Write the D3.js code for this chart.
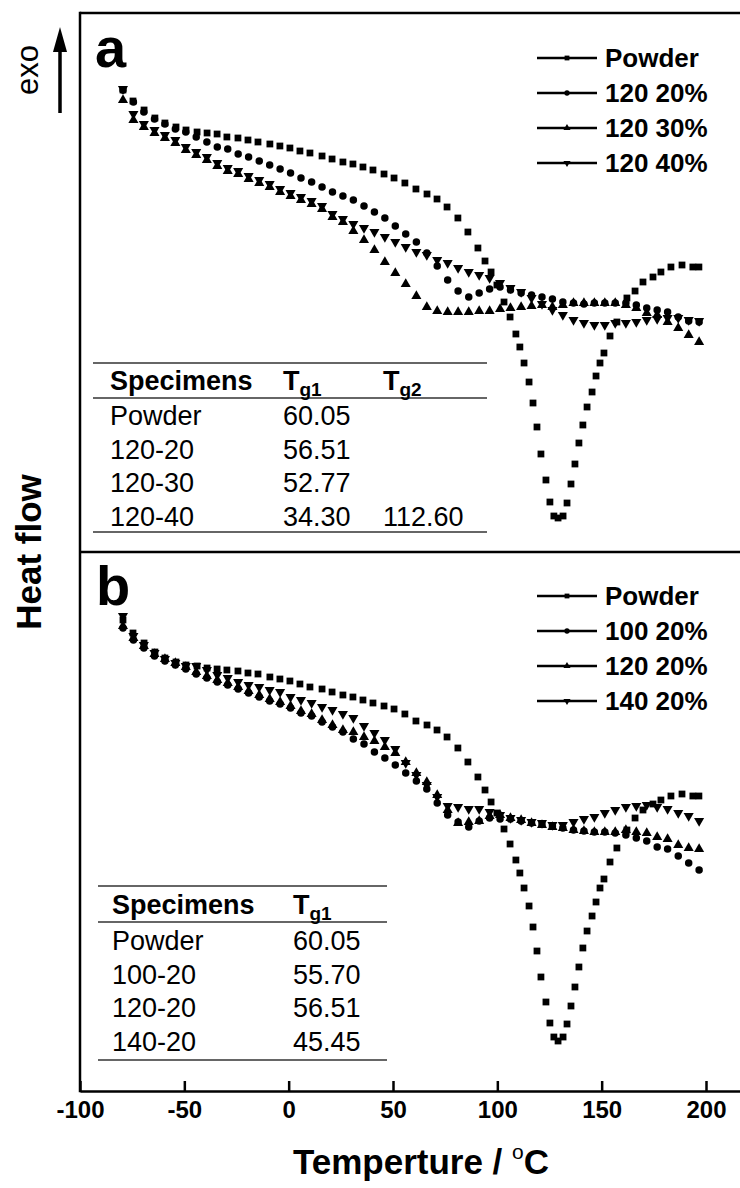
<!DOCTYPE html>
<html><head><meta charset="utf-8">
<script src="https://cdn.jsdelivr.net/npm/d3@7"></script>
<style>body{margin:0;background:#fff}svg{display:block}text{font-family:"Liberation Sans",Arial,sans-serif;fill:#000}</style>
</head><body><svg id="c" width="740" height="1188"></svg>
<script>
// ---------- data ----------
const xTicks = [-100, -50, 0, 50, 100, 150, 200];
const gridT = [-79.4,-74.4,-69.4,-64.3,-59.3,-54.3,-49.3,-44.3,-39.2,-34.2,-29.2,-24.2,-19.2,-14.1,-9.1,-4.1,0.9,5.9,11.0,16.0,21.0,26.0,31.0,36.1,41.1,46.1,51.1,56.1,61.2,66.2,71.2,76.2,81.2,86.3,91.3,96.3,101.3,106.3,111.4,116.4,121.4,126.4,131.4,136.5,141.5,146.5,151.5,156.5,161.6,166.6,171.6,176.6,181.6,186.7,191.7,196.7];
const powderT = [-79.4,-74.6,-69.3,-64.1,-59.3,-54.0,-49.2,-43.9,-39.1,-34.3,-29.6,-24.3,-19.5,-14.7,-9.0,-4.2,0.6,5.4,10.2,16.0,20.8,26.0,30.8,35.6,40.4,45.7,50.5,55.7,61.0,66.3,71.1,75.9,81.1,85.9,90.7,94.1,97.0,99.8,103.2,106.1,108.9,110.8,112.8,115.2,117.1,119.0,120.9,123.3,125.2,127.1,129.1,131.5,133.4,135.3,137.2,139.1,141.0,143.0,145.4,147.3,149.2,151.1,154.0,157.3,162.1,166.0,169.8,174.6,178.4,183.2,188.5,193.7,196.6];
// panel a (heat flow, a.u.)
const aPowder = [46.2,45.1,44.2,43.4,42.9,42.5,42.2,42.0,41.9,41.8,41.5,41.4,41.2,41.0,40.8,40.6,40.4,40.1,39.9,39.6,39.3,39.0,38.8,38.5,38.2,37.8,37.4,36.9,36.3,35.8,35.3,34.5,33.4,32.0,30.4,29.1,28.0,26.7,25.0,23.5,21.8,20.5,18.9,17.0,14.9,12.5,9.8,7.2,5.0,3.6,3.4,3.6,4.9,6.8,8.8,10.9,12.7,14.5,16.0,17.6,18.9,19.9,21.6,23.0,25.4,26.1,27.0,27.5,28.0,28.5,28.7,28.5,28.5];
const a120_20 = [46.2,45.0,44.0,43.3,42.8,42.3,42.0,41.5,41.0,40.5,40.3,39.8,39.5,39.1,38.7,38.3,37.9,37.4,37.0,36.5,36.0,35.6,35.2,34.6,34.0,33.4,32.6,31.8,31.0,29.9,28.6,27.2,26.1,25.5,25.9,26.3,26.5,26.2,25.9,25.7,25.5,25.3,25.0,24.9,24.8,24.9,24.9,24.9,24.9,24.7,24.4,24.2,24.0,23.5,23.1,23.0];
const a120_30 = [45.2,43.2,42.5,41.9,41.4,40.9,40.2,39.7,39.2,38.6,38.1,37.8,37.3,36.9,36.5,36.0,35.6,35.2,34.8,34.3,33.5,33.0,32.1,31.2,30.2,29.0,27.9,26.8,25.6,24.5,24.1,24.0,24.0,24.0,24.1,24.1,24.3,24.4,24.5,24.6,24.7,24.5,24.7,24.9,24.9,24.9,24.9,24.9,24.7,24.4,23.9,23.7,23.0,22.4,21.7,21.0];
const a120_40 = [46.3,43.8,42.8,42.2,41.7,41.2,40.5,40.0,39.5,38.9,38.4,38.1,37.6,37.2,36.8,36.3,35.9,35.5,35.1,34.6,33.8,33.3,32.8,32.4,32.0,31.5,31.0,30.5,30.0,29.7,29.2,28.9,28.4,28.0,27.7,27.4,26.9,26.4,26.0,25.4,24.8,24.2,23.7,23.2,22.9,22.7,22.7,22.9,22.9,23.0,23.2,23.3,23.4,23.4,23.2,23.1];
// panel b (heat flow, a.u.)
const bPowder = [47.1,45.8,44.8,43.9,43.3,42.9,42.6,42.5,42.3,42.2,42.1,42.0,41.8,41.7,41.4,41.2,41.0,40.7,40.4,40.2,39.9,39.6,39.4,39.1,38.8,38.5,38.2,37.7,37.0,36.6,36.1,35.4,34.3,32.9,31.4,30.1,28.9,27.8,26.2,24.7,23.1,21.8,20.3,18.5,16.4,14.0,11.4,8.9,6.8,5.4,5.0,5.4,6.7,8.5,10.4,12.4,14.3,16.0,17.5,18.9,20.3,21.2,22.9,24.3,26.1,27.3,28.1,28.7,29.1,29.5,29.7,29.5,29.5];
const b100_20 = [46.3,45.1,44.3,43.5,43.0,42.6,42.2,41.7,41.3,40.9,40.6,40.2,39.8,39.4,39.0,38.7,38.3,37.8,37.5,36.9,36.4,35.9,35.2,34.7,33.9,33.3,32.6,31.8,31.0,30.2,28.8,27.6,26.9,26.4,27.0,27.3,27.2,27.2,27.0,26.8,26.7,26.5,26.3,26.1,26.0,25.9,25.9,25.8,25.6,25.3,25.0,24.4,24.2,23.5,22.8,22.1];
const b120_20 = [46.5,45.3,44.5,43.7,43.2,42.8,42.4,41.9,41.5,41.1,40.8,40.4,40.0,39.6,39.2,38.9,38.5,38.0,37.7,37.1,36.6,36.1,35.9,35.4,35.0,34.4,33.8,32.9,31.8,30.9,29.6,28.1,26.8,26.9,27.0,27.5,27.6,27.3,27.1,26.8,26.6,26.4,26.3,26.1,26.0,25.9,25.9,25.9,26.1,25.9,25.8,25.4,25.2,24.6,24.3,24.2];
const b140_20 = [47.5,45.5,44.6,43.8,43.2,42.8,42.5,42.5,42.1,41.6,41.3,40.9,40.6,40.4,40.1,39.9,39.4,39.1,38.8,38.4,38.1,37.7,37.3,36.5,35.8,35.1,34.2,32.8,31.6,30.6,29.4,28.5,28.4,28.2,28.2,27.9,27.6,27.3,27.1,26.9,26.8,26.6,26.6,26.9,27.2,27.4,27.8,28.1,28.4,28.5,28.6,28.4,28.2,27.8,27.5,27.0];
// legends / tables
const legendA = ["Powder", "120 20%", "120 30%", "120 40%"];
const legendB = ["Powder", "100 20%", "120 20%", "140 20%"];
const specimensA = ["Powder", "120-20", "120-30", "120-40"];
const tg1A = ["60.05", "56.51", "52.77", "34.30"];
const tg2A = ["", "", "", "112.60"];
const specimensB = ["Powder", "100-20", "120-20", "140-20"];
const tg1B = ["60.05", "55.70", "56.51", "45.45"];

// ---------- layout ----------
const svg = d3.select("#c");
const L = 80, R = 741, TOP = 13, MID = 552, BOT = 1091;
const x = d3.scaleLinear().domain([-100, 216.3]).range([L, L + 316.3 * (626 / 300)]);
const yA = d3.scaleLinear().domain([0, 53.9]).range([MID, TOP]);
const yB = d3.scaleLinear().domain([0, 53.9]).range([BOT, MID]);
const FONT = '"Liberation Sans",Arial,sans-serif';

const symType = {square: d3.symbolSquare, circle: d3.symbolCircle, up: d3.symbolTriangle, down: d3.symbolTriangle};
const symSize = {square: 46, circle: 44, up: 44, down: 44};
function sym(kind, scale) {
  return d3.symbol().type(symType[kind]).size(symSize[kind] * (scale || 1))();
}

function drawSeries(y, series) {
  series.forEach(s => {
    const pts = s.t.map((t, i) => [t, s.v[i]]);
    svg.append("g").selectAll("path").data(pts).join("path")
      .attr("d", sym(s.kind))
      .attr("transform", d => `translate(${x(d[0])},${y(d[1])})` + (s.kind === "down" ? " rotate(180)" : ""))
      .attr("fill", "#000");
  });
}

const kinds = ["square", "circle", "up", "down"];
drawSeries(yA, [
  {t: powderT, v: aPowder, kind: "square"},
  {t: gridT, v: a120_20, kind: "circle"},
  {t: gridT, v: a120_30, kind: "up"},
  {t: gridT, v: a120_40, kind: "down"}
]);
drawSeries(yB, [
  {t: powderT, v: bPowder, kind: "square"},
  {t: gridT, v: b100_20, kind: "circle"},
  {t: gridT, v: b120_20, kind: "up"},
  {t: gridT, v: b140_20, kind: "down"}
]);

// frame
const frame = svg.append("g").attr("stroke", "#000").attr("stroke-width", 2.5).attr("fill", "none");
frame.append("line").attr("x1", L).attr("x2", R).attr("y1", TOP).attr("y2", TOP);
frame.append("line").attr("x1", L).attr("x2", R).attr("y1", MID).attr("y2", MID);
frame.append("line").attr("x1", L).attr("x2", L).attr("y1", TOP - 1.2).attr("y2", BOT + 1.2);

// x axis
const ax = svg.append("g").attr("transform", `translate(0,${BOT})`)
  .call(d3.axisBottom(x).tickValues(xTicks).tickSizeInner(-10).tickSizeOuter(0).tickPadding(10).tickFormat(d => String(d)));
ax.select(".domain").attr("stroke", "#000").attr("stroke-width", 2.5);
ax.selectAll(".tick line").attr("stroke", "#000").attr("stroke-width", 2.5);
ax.selectAll(".tick text").attr("font-family", FONT).attr("font-size", 24).attr("font-weight", "bold").attr("fill", "#000");

// axis titles
const xt = svg.append("text").attr("x", 421).attr("y", 1174).attr("text-anchor", "middle")
  .attr("font-size", 35).attr("font-weight", "bold");
xt.append("tspan").text("Temperture / ");
xt.append("tspan").attr("font-size", 21).attr("dy", -15).attr("font-weight", "normal").text("o");
xt.append("tspan").attr("dy", 15).text("C");

svg.append("text").attr("transform", "translate(28,552) rotate(-90)").attr("text-anchor", "middle")
  .attr("dominant-baseline", "central").attr("font-size", 35).attr("font-weight", "bold").text("Heat flow");
svg.append("text").attr("transform", "translate(27,70) rotate(-90)").attr("text-anchor", "middle")
  .attr("dominant-baseline", "central").attr("font-size", 31).text("exo");

// arrow
svg.append("line").attr("x1", 60).attr("x2", 60).attr("y1", 113).attr("y2", 45).attr("stroke", "#000").attr("stroke-width", 3.5);
svg.append("path").attr("d", "M60,27 L67,52 L53,52 Z").attr("fill", "#000");

// panel letters
svg.append("text").attr("x", 95).attr("y", 67).attr("font-size", 56).attr("font-weight", "bold").text("a");
svg.append("text").attr("x", 96).attr("y", 605).attr("font-size", 56).attr("font-weight", "bold").text("b");

// legends
function legend(names, y0) {
  names.forEach((n, i) => {
    const yy = y0 + i * 35;
    svg.append("line").attr("x1", 537).attr("x2", 597).attr("y1", yy).attr("y2", yy).attr("stroke", "#000").attr("stroke-width", 2.5);
    svg.append("path").attr("d", sym(kinds[i], 0.5))
      .attr("transform", `translate(567,${yy})` + (kinds[i] === "down" ? " rotate(180)" : "")).attr("fill", "#000");
    svg.append("text").attr("x", 605).attr("y", yy).attr("dominant-baseline", "central")
      .attr("font-size", 26).attr("font-weight", "bold").text(n);
  });
}
legend(legendA, 58);
legend(legendB, 596);

// tables
function tg(el, sub) {
  el.append("tspan").text("T");
  el.append("tspan").attr("font-size", 19).attr("dy", 6).text(sub);
}
function table(opts) {
  const g = svg.append("g");
  const ln = (yy) => g.append("line").attr("x1", opts.x1).attr("x2", opts.x2).attr("y1", yy).attr("y2", yy)
    .attr("stroke", "#333").attr("stroke-width", 1.6);
  ln(opts.top); ln(opts.under); ln(opts.bottom);
  g.append("text").attr("x", opts.c0).attr("y", opts.head).attr("font-size", 27).attr("font-weight", "bold").text("Specimens");
  tg(g.append("text").attr("x", opts.c1).attr("y", opts.head).attr("font-size", 27).attr("font-weight", "bold"), "g1");
  if (opts.col2) tg(g.append("text").attr("x", opts.c2).attr("y", opts.head).attr("font-size", 27).attr("font-weight", "bold"), "g2");
  opts.col0.forEach((s, i) => {
    const yy = opts.row0 + i * opts.step;
    g.append("text").attr("x", opts.c0).attr("y", yy).attr("font-size", 27).text(s);
    g.append("text").attr("x", opts.c1).attr("y", yy).attr("font-size", 27).text(opts.col1[i]);
    if (opts.col2 && opts.col2[i]) g.append("text").attr("x", opts.c2).attr("y", yy).attr("font-size", 27).text(opts.col2[i]);
  });
}
table({x1: 93, x2: 487, top: 363, under: 398, bottom: 532, head: 390, row0: 425, step: 33.5,
  c0: 110, c1: 283, c2: 383, col0: specimensA, col1: tg1A, col2: tg2A});
table({x1: 98, x2: 387, top: 886, under: 922, bottom: 1060, head: 914, row0: 950, step: 33.5,
  c0: 112, c1: 293, col0: specimensB, col1: tg1B});
</script></body></html>
